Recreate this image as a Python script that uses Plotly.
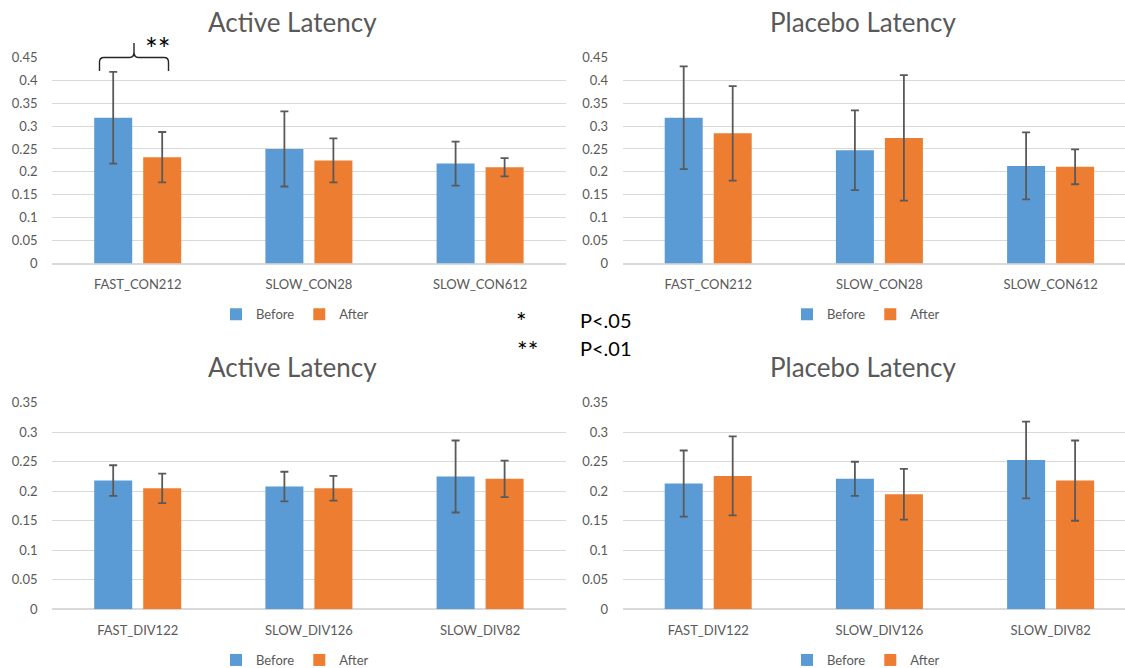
import plotly.graph_objects as go
from plotly.subplots import make_subplots

W, H = 1125, 668

# ---------------- data ----------------
con_categories = ["FAST_CON212", "SLOW_CON28", "SLOW_CON612"]
div_categories = ["FAST_DIV122", "SLOW_DIV126", "SLOW_DIV82"]
series_names = ["Before", "After"]

active_con_before = [0.318, 0.250, 0.218]
active_con_before_err = [0.100, 0.082, 0.048]
active_con_after = [0.232, 0.225, 0.210]
active_con_after_err = [0.055, 0.048, 0.020]

placebo_con_before = [0.318, 0.247, 0.213]
placebo_con_before_err = [0.112, 0.087, 0.073]
placebo_con_after = [0.284, 0.274, 0.211]
placebo_con_after_err = [0.103, 0.137, 0.038]

active_div_before = [0.218, 0.208, 0.225]
active_div_before_err = [0.026, 0.025, 0.061]
active_div_after = [0.205, 0.205, 0.221]
active_div_after_err = [0.025, 0.021, 0.031]

placebo_div_before = [0.213, 0.221, 0.253]
placebo_div_before_err = [0.056, 0.029, 0.065]
placebo_div_after = [0.226, 0.195, 0.218]
placebo_div_after_err = [0.067, 0.043, 0.068]

panel_titles = ["Active Latency", "Placebo Latency", "Active Latency", "Placebo Latency"]
top_y_max = 0.45
bottom_y_max = 0.35
y_step = 0.05

significance_labels = ["*", "**"]
p_labels = ["P<.05", "P<.01"]

# ---------------- style ----------------
BLUE = "#5B9BD5"
ORANGE = "#ED7D31"
TXT = "#595959"
GRID = "#D9D9D9"
FONT = "Lato, Calibri, Carlito, sans-serif"


def px_x(px):
    return px / W


def px_y(py):
    return 1 - py / H


panels = [
    (1, 1, con_categories, active_con_before, active_con_before_err, active_con_after, active_con_after_err, "legend"),
    (1, 2, con_categories, placebo_con_before, placebo_con_before_err, placebo_con_after, placebo_con_after_err, "legend2"),
    (2, 1, div_categories, active_div_before, active_div_before_err, active_div_after, active_div_after_err, "legend3"),
    (2, 2, div_categories, placebo_div_before, placebo_div_before_err, placebo_div_after, placebo_div_after_err, "legend4"),
]

fig = make_subplots(rows=2, cols=2)

for r, c, cats, b, be, a, ae, lg in panels:
    for name, vals, errs, col in [("Before", b, be, BLUE), ("After", a, ae, ORANGE)]:
        fig.add_trace(
            go.Bar(
                x=cats, y=vals, name=name, legend=lg,
                marker=dict(color=col, line=dict(width=0)),
                error_y=dict(type="data", array=errs, color=TXT, thickness=1.8, width=4),
                showlegend=True,
            ),
            row=r, col=c,
        )

# domains (pixel-derived)
x_left = [px_x(52.1), px_x(565.7)]
x_right = [px_x(622.6), 1.0]
y_top = [px_y(263.5), px_y(57.3)]
y_bot = [px_y(609.3), px_y(402.7)]
right_range = [-0.5, -0.5 + (W - 622.6) / 171.2]

axis_common_x = dict(
    type="category", showgrid=False, zeroline=False, showline=False,
    ticks="outside", ticklen=9, tickcolor="rgba(0,0,0,0)",
    tickfont=dict(family=FONT, size=13, color=TXT), fixedrange=True,
)
axis_common_y = dict(
    showgrid=True, gridcolor=GRID, gridwidth=1.2, zeroline=True, zerolinecolor=GRID,
    zerolinewidth=1.5, showline=False, dtick=y_step, tick0=0,
    ticks="outside", ticklen=11, tickcolor="rgba(0,0,0,0)",
    tickfont=dict(family=FONT, size=13, color=TXT), fixedrange=True,
)

fig.update_layout(
    xaxis=dict(domain=x_left, range=[-0.5, 2.5], **axis_common_x),
    xaxis2=dict(domain=x_right, range=right_range, **axis_common_x),
    xaxis3=dict(domain=x_left, range=[-0.5, 2.5], **axis_common_x),
    xaxis4=dict(domain=x_right, range=right_range, **axis_common_x),
    yaxis=dict(domain=y_top, range=[0, top_y_max], **axis_common_y),
    yaxis2=dict(domain=y_top, range=[0, top_y_max], **axis_common_y),
    yaxis3=dict(domain=y_bot, range=[0, bottom_y_max], **axis_common_y),
    yaxis4=dict(domain=y_bot, range=[0, bottom_y_max], **axis_common_y),
)

legend_common = dict(
    orientation="h", xanchor="center", yanchor="middle",
    font=dict(family=FONT, size=13, color=TXT), bgcolor="rgba(0,0,0,0)",
    itemwidth=30, traceorder="normal",
)
fig.update_layout(
    legend=dict(x=px_x(295), y=px_y(314.3), **legend_common),
    legend2=dict(x=px_x(866), y=px_y(314.3), **legend_common),
    legend3=dict(x=px_x(295), y=px_y(660), **legend_common),
    legend4=dict(x=px_x(866), y=px_y(660), **legend_common),
)

annotations = []
title_pos = [(292.7, 22), (863.2, 22), (292.7, 367), (863.2, 367)]
for t, (tx, ty) in zip(panel_titles, title_pos):
    annotations.append(dict(
        text=t, x=px_x(tx), y=px_y(ty), xref="paper", yref="paper",
        xanchor="center", yanchor="middle", showarrow=False,
        font=dict(family=FONT, size=26, color=TXT),
    ))

# significance marker above the first active group
annotations.append(dict(
    text="**", x=px_x(157.5), y=px_y(48), xref="paper", yref="paper",
    xanchor="center", yanchor="middle", showarrow=False,
    font=dict(family=FONT, size=30, color="#000000"),
))

# key in the middle
for sym, lab, (sx, sy, ly) in zip(significance_labels, p_labels,
                                  [(521.5, 321, 320), (527.8, 350, 348)]):
    annotations.append(dict(
        text=sym, x=px_x(sx), y=px_y(sy), xref="paper", yref="paper",
        xanchor="center", yanchor="middle", showarrow=False,
        font=dict(family=FONT, size=25, color="#000000"),
    ))
    annotations.append(dict(
        text=lab, x=px_x(578.3), y=px_y(ly), xref="paper", yref="paper",
        xanchor="left", yanchor="middle", showarrow=False,
        font=dict(family=FONT, size=20, color="#000000"),
    ))

fig.update_layout(annotations=annotations)

# curly brace (pixel path -> paper coords)
brace_px = [
    ("M", 99.5, 71), ("L", 99.5, 62), ("Q", 99.5, 57.5, 104, 57.5), ("L", 129.5, 57.5),
    ("Q", 134, 57.5, 134, 52), ("L", 134, 43),
    ("M", 134, 52), ("Q", 134, 57.5, 138.5, 57.5), ("L", 164, 57.5),
    ("Q", 168.5, 57.5, 168.5, 62), ("L", 168.5, 71),
]
parts = []
for seg in brace_px:
    cmd = seg[0]
    nums = seg[1:]
    pts = []
    for i in range(0, len(nums), 2):
        pts.append(f"{px_x(nums[i]):.5f},{px_y(nums[i + 1]):.5f}")
    parts.append(cmd + " " + " ".join(pts))
fig.add_shape(type="path", path=" ".join(parts), xref="paper", yref="paper",
              line=dict(color="#262626", width=1.4), fillcolor="rgba(0,0,0,0)")

fig.update_layout(
    width=W, height=H, autosize=False,
    margin=dict(l=0, r=0, t=0, b=0, pad=0, autoexpand=False),
    paper_bgcolor="white", plot_bgcolor="white",
    barmode="group", bargap=0.4276, bargroupgap=0.2245,
    font=dict(family=FONT, color=TXT),
)

fig.write_html("out.html", config={"displayModeBar": False},
               post_script="document.body.style.margin='0';document.body.style.overflow='hidden';")
